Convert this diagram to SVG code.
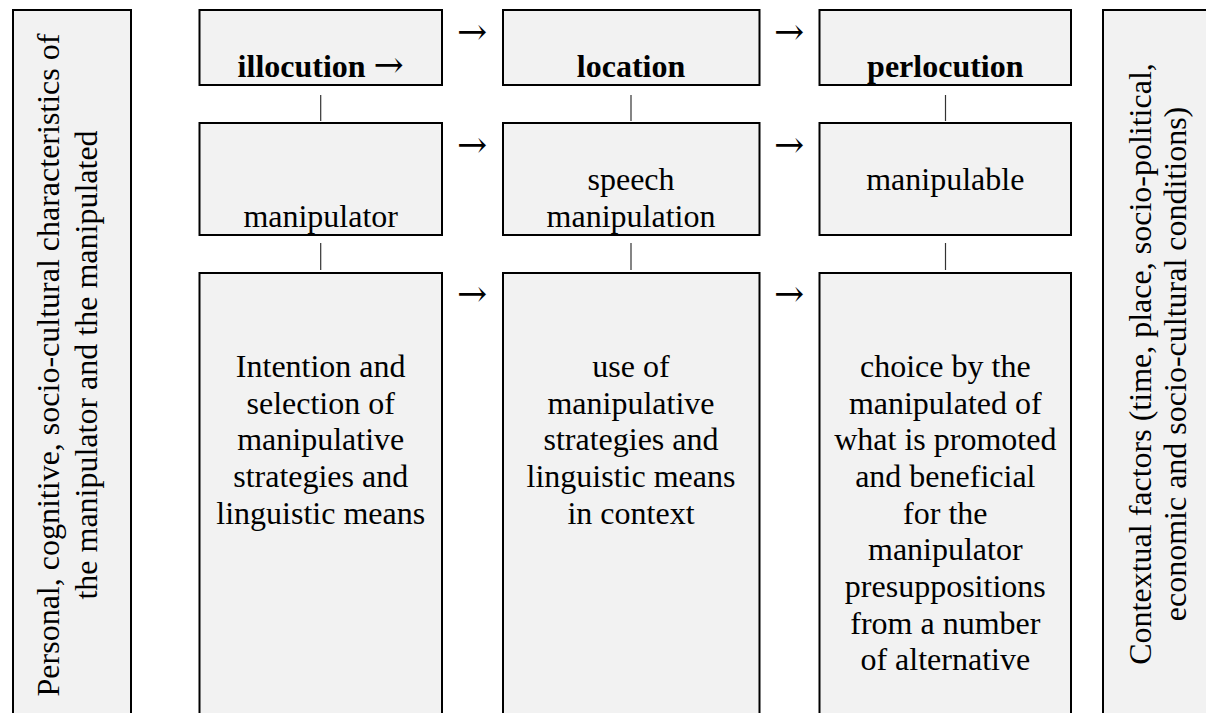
<svg xmlns="http://www.w3.org/2000/svg" width="1206" height="713" viewBox="0 0 1206 713">
<style>
.box{fill:#f2f2f2;stroke:#000;stroke-width:2}
.t{font-family:"Liberation Serif","Times New Roman",serif;font-size:32px;fill:#000;text-anchor:middle}
.b{font-weight:bold}
.ar{font-family:"DejaVu Serif",serif;font-size:36px;font-weight:normal}
.conn{stroke:#333;stroke-width:1.2}
</style>
<rect width="1206" height="713" fill="#fff"/>
<g id="left-factors">
<rect class="box" x="13" y="10" width="118" height="720"/>
<text class="t" transform="translate(59,365) rotate(-90)">Personal, cognitive, socio-cultural characteristics of</text>
<text class="t" transform="translate(96.5,365) rotate(-90)">the manipulator and the manipulated</text>
</g>
<g id="right-factors">
<rect class="box" x="1103" y="10" width="130" height="720"/>
<text class="t" transform="translate(1151,364) rotate(-90)">Contextual factors (time, place, socio-political,</text>
<text class="t" transform="translate(1186,364) rotate(-90)">economic and socio-cultural conditions)</text>
</g>
<g id="illocution">
<rect class="box" x="199.5" y="10" width="242.5" height="75"/>
<text class="t b" x="320.7" y="77">illocution <tspan class="ar">→</tspan></text>
</g>
<g id="location">
<rect class="box" x="503" y="10" width="256.5" height="75"/>
<text class="t b" x="631" y="77">location</text>
</g>
<g id="perlocution">
<rect class="box" x="819.5" y="10" width="251.5" height="75"/>
<text class="t b" x="945.3" y="77">perlocution</text>
</g>
<g id="manipulator">
<rect class="box" x="199.5" y="123" width="242.5" height="112"/>
<text class="t" x="320.7" y="227">manipulator</text>
</g>
<g id="speech-manipulation">
<rect class="box" x="503" y="123" width="256.5" height="112"/>
<text class="t" x="631" y="190">speech</text>
<text class="t" x="631" y="227">manipulation</text>
</g>
<g id="manipulable">
<rect class="box" x="819.5" y="123" width="251.5" height="112"/>
<text class="t" x="945.3" y="190">manipulable</text>
</g>
<g id="intention">
<rect class="box" x="199.5" y="273" width="242.5" height="460"/>
<text class="t" x="320.7" y="377">Intention and</text>
<text class="t" x="320.7" y="413.7">selection of</text>
<text class="t" x="320.7" y="450.3">manipulative</text>
<text class="t" x="320.7" y="487">strategies and</text>
<text class="t" x="320.7" y="523.7">linguistic means</text>
</g>
<g id="use">
<rect class="box" x="503" y="273" width="256.5" height="460"/>
<text class="t" x="631" y="377">use of</text>
<text class="t" x="631" y="413.7">manipulative</text>
<text class="t" x="631" y="450.3">strategies and</text>
<text class="t" x="631" y="487">linguistic means</text>
<text class="t" x="631" y="523.7">in context</text>
</g>
<g id="choice">
<rect class="box" x="819.5" y="273" width="251.5" height="460"/>
<text class="t" x="945.3" y="377">choice by the</text>
<text class="t" x="945.3" y="413.7">manipulated of</text>
<text class="t" x="945.3" y="450.3">what is promoted</text>
<text class="t" x="945.3" y="487">and beneficial</text>
<text class="t" x="945.3" y="523.7">for the</text>
<text class="t" x="945.3" y="560.3">manipulator</text>
<text class="t" x="945.3" y="597">presuppositions</text>
<text class="t" x="945.3" y="633.7">from a number</text>
<text class="t" x="945.3" y="670.3">of alternative</text>
</g>
<g id="connectors">
<line class="conn" x1="320.7" y1="95" x2="320.7" y2="121"/>
<line class="conn" x1="320.7" y1="243" x2="320.7" y2="270"/>
<line class="conn" x1="631" y1="95" x2="631" y2="121"/>
<line class="conn" x1="631" y1="243" x2="631" y2="270"/>
<line class="conn" x1="945.5" y1="95" x2="945.5" y2="121"/>
<line class="conn" x1="945.5" y1="243" x2="945.5" y2="270"/>
<text class="t ar" x="472" y="44">→</text>
<text class="t ar" x="472" y="157">→</text>
<text class="t ar" x="472" y="306">→</text>
<text class="t ar" x="789" y="44">→</text>
<text class="t ar" x="789" y="157">→</text>
<text class="t ar" x="789" y="306">→</text>
</g>
</svg>
